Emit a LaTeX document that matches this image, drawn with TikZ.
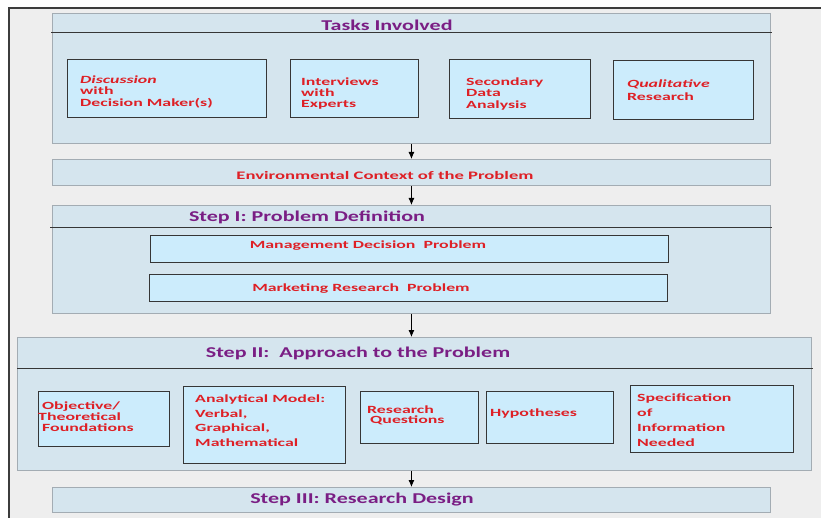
\documentclass[tikz,border=0pt]{standalone}
\usepackage{fontspec}
\usetikzlibrary{arrows.meta}
\newfontfamily\redfont[FakeStretch=1.62]{Carlito}
\newfontfamily\titlefont[FakeStretch=1.47]{Carlito}
\definecolor{pagebg}{HTML}{EEEEEE}
\definecolor{framecol}{HTML}{3C3C3C}
\definecolor{boxfill}{HTML}{D5E5EE}
\definecolor{boxline}{HTML}{A3ACB3}
\definecolor{infill}{HTML}{CCECFC}
\definecolor{inline}{HTML}{363636}
\definecolor{txtred}{HTML}{DE2026}
\definecolor{txtpurple}{HTML}{7A1E84}
\newcommand\firstline{\rule{0pt}{9pt}}
\tikzset{
  bigbox/.style={draw=boxline, fill=boxfill, line width=0.9pt, inner sep=0pt, anchor=north west},
  smallbox/.style={draw=inline, fill=infill, line width=1.1pt, inner sep=0pt, anchor=north west},
  redtext/.style={text=txtred, inner sep=0pt, align=left, anchor=north west,
    font=\redfont\bfseries\fontsize{11}{#1}\selectfont},
  redtext/.default=11.5,
  redline/.style={text=txtred, inner sep=0pt, anchor=base,
    font=\redfont\bfseries\fontsize{11}{13}\selectfont},
  titletext/.style={text=txtpurple, inner sep=0pt, anchor=base,
    font=\titlefont\bfseries\fontsize{15}{18}\selectfont},
  hdrline/.style={draw=inline, line width=1pt},
  flow/.style={draw=black, line width=0.8pt, -{Latex[length=7pt,width=6pt]}}
}
\begin{document}
\begin{tikzpicture}[x=1pt, y=-1pt]
\useasboundingbox (0,0) rectangle (821,518);
% page and frame
\fill[white] (0,0) rectangle (821,518);
\fill[pagebg] (9,8) rectangle (821,518);
\draw[framecol, line width=1.4pt] (9,518) -- (9,8) -- (821,8);

% tasks involved
\node[bigbox, minimum width=718pt, minimum height=130pt] (tasks) at (52,13) {};
\draw[hdrline] (51,33) -- (772,33);
\node[titletext] (tasksttl) at (387,30.5) {Tasks Involved};
\node[smallbox, minimum width=199pt, minimum height=58pt] (disc) at (67,59) {};
\node[smallbox, minimum width=128pt, minimum height=58pt] (intv) at (290,59) {};
\node[smallbox, minimum width=141pt, minimum height=59pt] (secd) at (449,59) {};
\node[smallbox, minimum width=140pt, minimum height=59pt] (qual) at (613,60) {};
\node[redtext] (tdisc) at (80,74) {\firstline\textit{Discussion}\\with\\Decision Maker(s)};
\node[redtext=11] (tintv) at (301,76) {\firstline Interviews\\with\\Experts};
\node[redtext] (tsecd) at (466,76) {\firstline Secondary\\Data\\Analysis};
\node[redtext=13] (tqual) at (627,78) {\firstline\textit{Qualitative}\\Research};

% environmental context
\node[bigbox, minimum width=718pt, minimum height=26pt] (env) at (52,159) {};
\node[redline, font=\redfont\bfseries\fontsize{11.5}{14}\selectfont] (tenv) at (385,180) {Environmental Context of the Problem};

% step I
\node[bigbox, minimum width=718pt, minimum height=108pt] (stepone) at (52,205) {};
\draw[hdrline] (50,228) -- (772,228);
\node[titletext] (steponettl) at (307,222) {Step I: Problem Definition};
\node[smallbox, minimum width=518pt, minimum height=27pt] (mdp) at (150,235) {};
\node[smallbox, minimum width=518pt, minimum height=27pt] (mrp) at (149,274) {};
\node[redline] (tmdp) at (368,249) {Management Decision\ \ Problem};
\node[redline] (tmrp) at (361,291) {Marketing Research\ \ Problem};

% step II
\node[bigbox, minimum width=794pt, minimum height=133pt] (steptwo) at (17,337) {};
\draw[hdrline] (17,368) -- (813,368);
\node[titletext] (steptwottl) at (358,357) {Step II:\ \ Approach to the Problem};
\node[smallbox, minimum width=131pt, minimum height=55pt] (objt) at (38,391) {};
\node[smallbox, minimum width=162pt, minimum height=77pt] (anlm) at (183,386) {};
\node[smallbox, minimum width=118pt, minimum height=52pt] (rsq) at (360,391) {};
\node[smallbox, minimum width=127pt, minimum height=52pt] (hyp) at (486,391) {};
\node[smallbox, minimum width=163pt, minimum height=67pt] (spec) at (630,385) {};
\node[redtext=11] (tobjt) at (42,400) {\firstline Objective/\\\hspace*{-4pt}Theoretical\\Foundations};
\node[redtext=14.8] (tanlm) at (195,393) {\firstline Analytical\ Model:\\Verbal,\\Graphical,\\Mathematical};
\node[redtext=10] (trsq) at (367,404) {\firstline Research\\\hspace*{3pt}Questions};
\node[redline, anchor=base west] (thyp) at (490,416) {Hypotheses};
\node[redtext=15] (tspec) at (637,392) {\firstline Specification\\of\\Information\\Needed};

% step III
\node[bigbox, minimum width=718pt, minimum height=25pt] (stepthree) at (52,487) {};
\node[titletext] (stepthreettl) at (362,503) {Step III: Research Design};

% flow between stages
\draw[flow] (tasks.south) -- (env.north);
\draw[flow] (env.south) -- (stepone.north);
\draw[flow] (stepone.south) -- (stepone.south |- steptwo.north);
\draw[flow] (stepone.south |- steptwo.south) -- (stepone.south |- stepthree.north);
\end{tikzpicture}
\end{document}
